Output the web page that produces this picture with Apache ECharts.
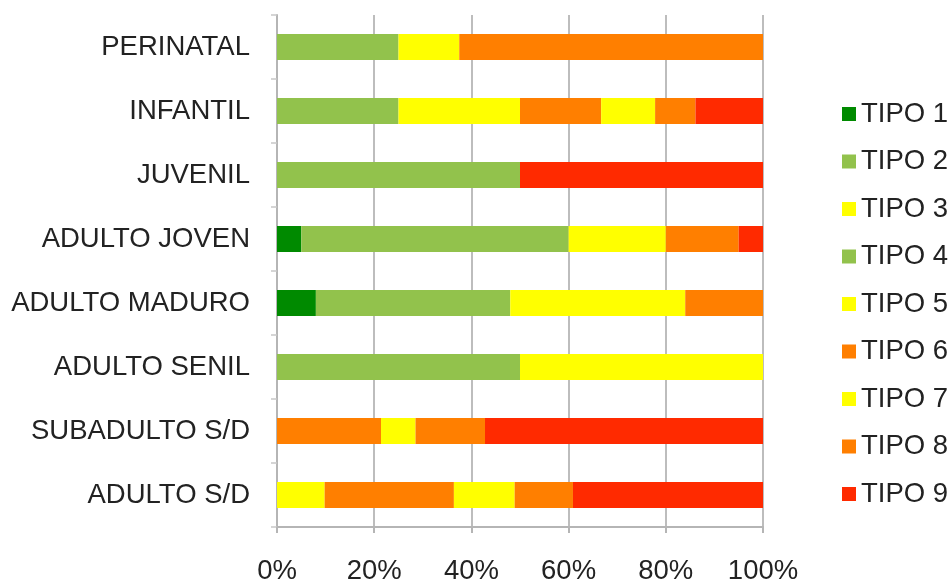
<!doctype html>
<html>
    <head>
        <meta charset="utf-8">
        <style>
            html, body { margin: 0; padding: 0; background: #fff; }
            #main { width: 951px; height: 585px; }
        </style>
    </head>
    <body>
        <div id="main"></div>
        <script src="https://cdn.jsdelivr.net/npm/echarts@6/dist/echarts.min.js"></script>
        <script>
            var categories = ['PERINATAL', 'INFANTIL', 'JUVENIL', 'ADULTO JOVEN', 'ADULTO MADURO',
                'ADULTO SENIL', 'SUBADULTO S/D', 'ADULTO S/D'];
            var seriesNames = ['TIPO 1', 'TIPO 2', 'TIPO 3', 'TIPO 4', 'TIPO 5', 'TIPO 6', 'TIPO 7', 'TIPO 8', 'TIPO 9'];
            var colors = ['#008a00', '#92c24c', '#ffff00', '#92c24c', '#ffff00', '#ff7f00', '#ffff00', '#ff7f00', '#ff2a00'];
            var xTicks = [0, 20, 40, 60, 80, 100];

            // percent of each category, one array per tipo
            var tipo1 = [0, 0, 0, 5, 8, 0, 0, 0];
            var tipo2 = [25, 25, 50, 55, 40, 50, 0, 0];
            var tipo3 = [12.5, 25, 0, 20, 36, 50, 0, 9.8];
            var tipo4 = [0, 0, 0, 0, 0, 0, 0, 0];
            var tipo5 = [0, 0, 0, 0, 0, 0, 0, 0];
            var tipo6 = [62.5, 16.7, 0, 15, 16, 0, 21.4, 26.6];
            var tipo7 = [0, 11.1, 0, 0, 0, 0, 7.1, 12.5];
            var tipo8 = [0, 8.3, 0, 0, 0, 0, 14.3, 12];
            var tipo9 = [0, 13.9, 50, 5, 0, 0, 57.2, 39.1];
            var values = [tipo1, tipo2, tipo3, tipo4, tipo5, tipo6, tipo7, tipo8, tipo9];

            var chart = echarts.init(document.getElementById('main'));
            var font = 'Liberation Sans, Arial, sans-serif';
            var fs = 27.5;

            var series = seriesNames.map(function (name, i) {
                return {
                    name: name,
                    type: 'bar',
                    stack: 'total',
                    barWidth: 26,
                    itemStyle: { color: colors[i] },
                    data: values[i]
                };
            });

            chart.setOption({
                animation: false,
                textStyle: { fontFamily: font },
                grid: { left: 277, right: 188, top: 15, bottom: 55 },
                legend: {
                    orient: 'vertical',
                    left: 837,
                    top: 95,
                    icon: 'rect',
                    itemWidth: 14,
                    itemHeight: 14,
                    itemGap: 19.5,
                    textStyle: { fontSize: fs, color: '#222', fontFamily: font },
                    data: seriesNames
                },
                xAxis: {
                    type: 'value',
                    min: xTicks[0],
                    max: xTicks[xTicks.length - 1],
                    interval: 20,
                    axisLine: { show: true, lineStyle: { color: '#b5b5b5', width: 2 } },
                    axisTick: { show: true, length: 6, lineStyle: { color: '#b5b5b5', width: 2 } },
                    splitLine: { show: true, lineStyle: { color: '#bdbdbd', width: 2 } },
                    axisLabel: {
                        formatter: '{value}%',
                        fontSize: fs,
                        color: '#222',
                        margin: 30,
                        fontFamily: font
                    }
                },
                yAxis: {
                    type: 'category',
                    inverse: true,
                    data: categories,
                    axisLine: { show: true, lineStyle: { color: '#b5b5b5', width: 2 } },
                    axisTick: { show: true, length: 6, lineStyle: { color: '#c8c8c8', width: 1.5 } },
                    axisLabel: { fontSize: fs, color: '#222', margin: 27, fontFamily: font }
                },
                series: series
            });

            window.onresize = chart.resize;
        </script>
    </body>
</html>
